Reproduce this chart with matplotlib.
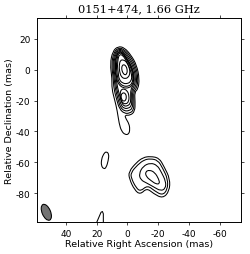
import matplotlib
matplotlib.use("Agg")
import matplotlib.pyplot as plt
from matplotlib.patches import Ellipse, PathPatch
from matplotlib.path import Path

title = "0151+474, 1.66 GHz"
xticks = [40, 20, 0, -20, -40, -60]
yticks = [20, 0, -20, -40, -60, -80]

# contour outlines, (RA, Dec) in mas
outer_tail = [(6.2,15.2),(2.0,14.4),(-2.4,9.4),(-6.0,3.0),(-7.8,-5.8),(-6.9,-12.6),(-4.6,-14.5),(-5,-21),
              (-4.8,-27),(-1.9,-29.6),(1.8,-29.4),(1.0,-31.8),(-1.0,-35),(-1.6,-38.6),(-0.9,-41.8),(1.5,-42.2),
              (3.9,-39.8),(5.4,-35),(6.7,-26.4),(8.2,-20),(10.2,-12.3),(10,-5.8),(11.3,3.9),(9.6,12)]
merged2 = [(5.9,14.3),(2.3,13.4),(-1.8,8.9),(-5.3,2.6),(-7,-5.6),(-6.1,-11.8),(-3.9,-14.2),(-4.3,-21),(-4,-26.2),
           (-1.5,-28.2),(2,-28.4),(5.2,-25.4),(7.0,-19.5),(8.9,-12),(9.2,-5.8),(10.4,3.6),(8.9,11.4)]
merged3 = [(5.8,13.6),(2.5,12.6),(-1.2,8.2),(-4.6,2.2),(-6.2,-5.4),(-5.4,-11),(-3.2,-13.8),(-3.6,-20.5),(-3.2,-25),
           (-1.1,-26.6),(2,-26.8),(4.6,-24.4),(6.2,-19),(8,-12),(8.6,-5.8),(9.7,3.4),(8.3,10.8)]
merged4 = [(5.7,12.9),(2.8,11.9),(-0.6,7.6),(-3.9,1.8),(-5.4,-5.2),(-4.7,-10.2),(-2.6,-13.3),(-2.9,-20),(-2.5,-23.6),
           (-0.6,-25),(2,-25.2),(4.1,-23.2),(5.4,-18.5),(7.2,-12),(8,-5.6),(9.1,3.2),(7.8,10.1)]
merged5 = [(5.6,12.2),(3,11.2),(0,7),(-3.2,1.4),(-4.6,-5),(-4.1,-9.6),(-2,-12.6),(-2.2,-19),(-1.8,-22),
           (0,-23.5),(2.2,-23.6),(3.7,-21.6),(4.8,-17.5),(6.4,-12),(7.4,-5.4),(8.5,3),(7.3,9.5)]
core5 = [(5.6,11.8),(3,10.9),(0.2,6.8),(-2.9,1.2),(-4.2,-4.9),(-3.6,-9.4),(-1.2,-11.9),(3.2,-11.8),(6.1,-9),(7.1,-5.2),(8.1,2.8),(7,9.2)]
core4 = [(5.5,11.1),(3,10.3),(0.4,6.4),(-2.5,0.9),(-3.7,-4.7),(-3.1,-8.8),(-0.8,-10.8),(3.1,-10.6),(5.6,-8.1),(6.5,-4.7),(7.4,2.5),(6.5,8.6)]
core3 = [(5.2,10),(3,9.4),(0.8,5.9),(-1.7,0.5),(-3,-4.4),(-2.2,-7.6),(0,-9.1),(3.2,-8.8),(5.5,-6.2),(6,-2),(6.6,2.4),(6.1,7.4)]
core2 = [(4.7,6.2),(2.5,6.5),(0.4,4.8),(-1.2,1.6),(-1.7,-2.1),(-0.7,-4.8),(1.5,-5.9),(4,-4.8),(5.2,-1),(5.4,2.7)]
core1 = [(3.6,2.4),(2.5,3.5),(0.9,2.4),(0.1,0),(0.3,-2.4),(1.6,-3.6),(3.2,-1.8),(3.8,0.6)]
lower2 = [(2.4,-12.3),(0,-13.7),(-1.1,-17),(-0.8,-20.8),(1,-22.3),(3.2,-21.6),(4.6,-18.7),(4.8,-14.9),(4,-12.9)]
lower1 = [(2.9,-14.8),(1.3,-15.4),(0.6,-17.6),(1.2,-20),(2.7,-20.5),(4,-18.9),(4.2,-16.2)]

lobe1 = [(-14.8,-56.2),(-20.6,-57.2),(-23.9,-63),(-27.7,-70.8),(-27.3,-78.8),(-23,-83.5),(-17,-80.4),(-12.6,-76.8),
         (-8.3,-81),(-4.6,-78),(-1.2,-70.8),(-0.8,-66.2),(-5.8,-60.2),(-10.2,-56.9)]
lobe2 = [(-14.8,-57.7),(-19.8,-58.7),(-22.9,-63.8),(-26.3,-71),(-26,-77.9),(-22.7,-81.5),(-17.5,-78.5),(-13,-75),
         (-8.5,-78.9),(-5.7,-76.7),(-2.5,-70.5),(-2.2,-66.8),(-6.7,-61.6),(-10.8,-58.5)]
lobe3 = [(-15,-60.4),(-19.4,-62),(-22,-66.3),(-25,-72.5),(-24.8,-77),(-21.7,-78.7),(-17,-76),(-12.5,-73.5),
         (-8.6,-71.5),(-7.5,-67.5),(-10.2,-62.5)]
lobe4 = [(-14.3,-65),(-17.8,-66.6),(-20.4,-71),(-21,-74),(-18.6,-74.2),(-15.4,-72),(-12.2,-69.4),(-11.6,-66.2)]
blob = [(13.9,-53),(12,-54.6),(12.5,-59),(13.8,-63.4),(15.3,-64.5),(17.1,-62.3),(16.9,-58),(15.5,-54.6)]
edge_open = [(20.5,-101),(20,-99),(17.2,-92.5),(16.3,-92),(15.7,-93.5),(15.7,-101)]

closed = [outer_tail, merged2, merged3, merged4, merged5, core5, core4, core3, core2, core1, lower2, lower1,
          lobe1, lobe2, lobe3, lobe4, blob]


def smooth_path(pts):
    # quadratic curves through the midpoints, the read points are the controls
    mids = [((pts[i][0] + pts[(i+1) % len(pts)][0])/2, (pts[i][1] + pts[(i+1) % len(pts)][1])/2)
            for i in range(len(pts))]
    verts = [mids[-1]]
    codes = [Path.MOVETO]
    for i in range(len(pts)):
        verts += [pts[i], mids[i]]
        codes += [Path.CURVE3, Path.CURVE3]
    return Path(verts, codes)


plt.rcParams['font.size'] = 6.5
plt.rcParams['axes.unicode_minus'] = False
fig = plt.figure(figsize=(2.5, 2.55), dpi=100)
ax = fig.add_axes([36.5/250, 1 - 223.3/255, (241 - 36.5)/250, (223.3 - 19)/255])

for c in closed:
    ax.add_patch(PathPatch(smooth_path(c), fc='none', ec='k', lw=0.75))
ax.plot([p[0] for p in edge_open], [p[1] for p in edge_open], color='k', lw=0.75)

# restoring beam
ax.add_patch(Ellipse((52.8, -92.5), 11, 5.5, angle=67, fc='0.45', ec='k', lw=0.75))

ax.set_xlim(59.2, -73.9)
ax.set_ylim(-99, 33.6)
ax.set_xticks(xticks)
ax.set_yticks(yticks)
ax.tick_params(direction='out', length=2.5, width=0.5, top=True, right=True, labelsize=6.5, pad=2)
for s in ax.spines.values():
    s.set_linewidth(0.7)
ax.set_xlabel("Relative Right Ascension (mas)", fontsize=6.8)
ax.set_ylabel("Relative Declination (mas)", fontsize=6.8)
ax.xaxis.set_label_coords(0.5, -0.08)
ax.yaxis.set_label_coords(-0.112, 0.5)
ax.set_title(title, family='DejaVu Serif', fontsize=8.2, pad=5)
fig.savefig("out.png", dpi=100)
